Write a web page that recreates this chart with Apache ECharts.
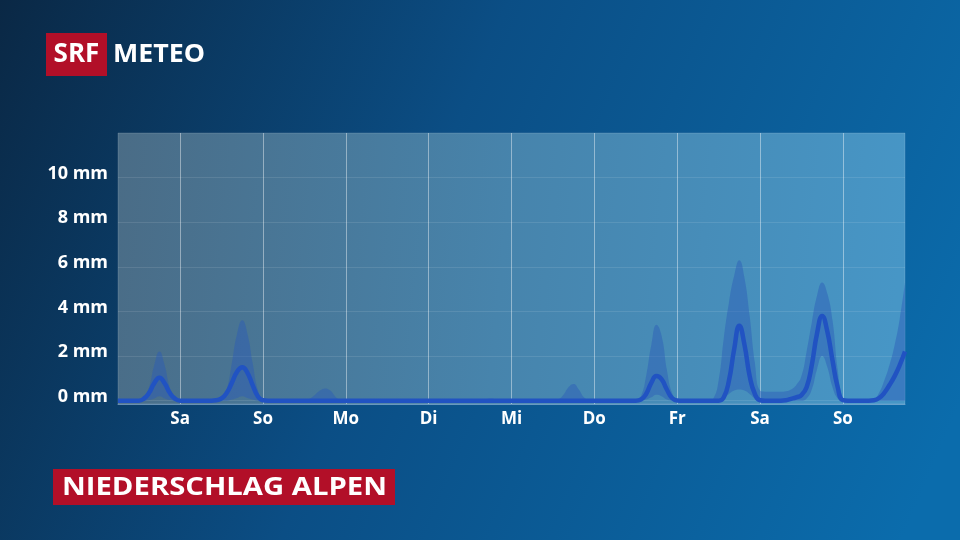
<!DOCTYPE html>
<html>
<head>
<meta charset="utf-8">
<script src="https://cdn.jsdelivr.net/npm/echarts@6/dist/echarts.min.js"></script>
<style>
html,body{margin:0;padding:0;background:#0b3a66;}
#c{width:960px;height:540px;}
</style>
</head>
<body>
<div id="c"></div>
<script>
// time in hours from Saturday 00:00 (first "Sa" line)
const bandHours = [-18,-12,-10.5,-9,-7.5,-6,-4.5,-3,-1.5,0,
  10.5,12,13.5,15,16.5,18,19.5,21,22.5,24,25.5,
  36,37.5,39,40.5,42,43.5,45,46.5,48,
  87,88.5,90,91.5,93,
  108,109.5,111,112.5,114,115.5,117,118.5,120,
  132,133.5,135,136.5,138,139.5,141,142.5,144,145.5,
  153,154.5,156,157.5,159,160.5,162,163.5,165,166.5,168,169.5,171,172.5,174,175.5,177,178.5,180,181.5,183,184.5,186,187.5,189,190.5,192,193.5,
  198,199.5,201,202.5,204,205.5,207,208.5,210];

const upper = [0,0,0.13,0.6,1.6,2.2,1.6,0.6,0.13,0,
  0,0.05,0.5,1.7,3.0,3.6,3.0,1.7,0.5,0.05,0,
  0,0.08,0.25,0.45,0.55,0.45,0.18,0.03,0,
  0,0.06,0.1,0.06,0,
  0,0.05,0.25,0.6,0.75,0.5,0.15,0.02,0,
  0,0.2,1.1,2.5,3.4,2.9,1.4,0.35,0.05,0,
  0,0.1,0.9,2.8,4.4,5.6,6.3,5.5,3.8,1.7,0.45,0.4,0.4,0.4,0.4,0.42,0.5,0.7,1.1,2.2,3.5,4.7,5.3,4.8,3.6,1.4,0.1,0,
  0,0,0.05,0.35,0.9,1.6,2.5,3.7,5.3];

const lower = [0,0,0,0.03,0.1,0.2,0.1,0.03,0,0,
  0,0,0,0.05,0.12,0.2,0.12,0.05,0,0,0,
  0,0,0,0,0,0,0,0,0,
  0,0,0,0,0,
  0,0,0,0,0,0,0,0,0,
  0,0,0.05,0.15,0.27,0.2,0.05,0,0,0,
  0,0,0,0.1,0.3,0.45,0.5,0.45,0.3,0.1,0,0,0,0,0,0,0,0,0,0.1,0.5,1.4,2.0,1.5,0.6,0.1,0,0,
  0,0,0,0,0,0,0,0,0];

const medHours = [-18,-12,-10.5,-9,-7.5,-6,-4.5,-3,-1.5,0,
  9,10.5,12,13.5,15,16.5,18,19.5,21,22.5,24,25.5,
  132,133.5,135,136.5,138,139.5,141,142.5,144,145.5,
  156,157.5,159,160.5,162,163.5,165,166.5,168,169.5,
  174,175.5,177,178.5,180,181.5,183,184.5,186,187.5,189,190.5,192,193.5,
  199.5,201,202.5,204,205.5,207,208.5,210];

const median = [0,0,0.09,0.35,0.78,1.03,0.78,0.35,0.09,0,
  0,0.02,0.1,0.35,0.8,1.3,1.5,1.25,0.7,0.2,0.02,0,
  0,0.05,0.3,0.8,1.1,0.95,0.5,0.12,0.01,0,
  0,0.15,0.9,2.3,3.36,2.5,1.1,0.3,0.02,0,
  0,0.02,0.08,0.15,0.25,0.6,1.6,3.0,3.8,3.1,1.8,0.6,0.02,0,
  0,0.02,0.12,0.35,0.7,1.1,1.6,2.2];

const dayTicks = [0,24,48,72,96,120,144,168,192];
const dayLabels = ['Sa','So','Mo','Di','Mi','Do','Fr','Sa','So'];
const yTicks = [0,2,4,6,8,10];
const titleText = 'NIEDERSCHLAG ALPEN';

const FONT = '"Open Sans", "Noto Sans", sans-serif';
// [value, hour] rows so that stacking happens on the value (y) dimension
const lowerRows = bandHours.map((h, i) => [lower[i], h]);
const bandRows = bandHours.map((h, i) => [Math.max(0, upper[i] - lower[i]), h]);
const medRows = medHours.map((h, i) => [h, median[i]]);

const chart = echarts.init(document.getElementById('c'), null, {renderer: 'canvas'});
chart.setOption({
  animation: false,
  backgroundColor: {
    type: 'linear', x: 0, y: 0, x2: 1, y2: 0.75,
    colorStops: [
      {offset: 0, color: '#0a2845'},
      {offset: 0.45, color: '#0b4e85'},
      {offset: 1, color: '#0b6cac'}
    ]
  },
  grid: {
    left: 118, right: 55, top: 133, bottom: 136,
    show: true,
    borderWidth: 1,
    borderColor: 'rgba(255,255,255,0.14)',
    backgroundColor: {
      type: 'linear', x: 0, y: 0, x2: 1, y2: 0.3,
      colorStops: [
        {offset: 0, color: '#4a6c86'},
        {offset: 0.5, color: '#4784ac'},
        {offset: 1, color: '#4796c6'}
      ]
    }
  },
  xAxis: {
    type: 'value', min: -18, max: 210,
    axisLine: {show: true, onZero: false, lineStyle: {color: 'rgba(170,200,230,0.55)', width: 1}},
    axisTick: {show: false, customValues: dayTicks},
    splitLine: {show: true, lineStyle: {color: 'rgba(255,255,255,0.42)', width: 1}},
    axisLabel: {
      customValues: dayTicks,
      color: '#ffffff', fontFamily: FONT, fontWeight: 'bold', fontSize: 17, margin: 7,
      formatter: (v) => dayLabels[dayTicks.indexOf(v)]
    }
  },
  yAxis: {
    type: 'value', min: -0.15, max: 12,
    axisLine: {show: false},
    axisTick: {show: false, customValues: yTicks},
    splitLine: {show: true, lineStyle: {color: 'rgba(255,255,255,0.1)', width: 1}},
    axisLabel: {
      customValues: yTicks,
      color: '#ffffff', fontFamily: FONT, fontWeight: 'bold', fontSize: 18, margin: 10,
      verticalAlign: 'bottom', lineHeight: 8,
      formatter: '{value} mm'
    }
  },
  series: [
    {
      type: 'line', name: 'lower', stack: 'band', data: lowerRows, encode: {x: 1, y: 0},
      smooth: 0.5, symbol: 'none', lineStyle: {opacity: 0}, silent: true
    },
    {
      type: 'line', name: 'band', stack: 'band', data: bandRows, encode: {x: 1, y: 0},
      smooth: 0.5, symbol: 'none', lineStyle: {opacity: 0},
      areaStyle: {color: 'rgba(42,92,184,0.45)', opacity: 1}, silent: true
    },
    {
      type: 'line', name: 'median', data: medRows,
      smooth: 0.5, symbol: 'none', z: 5,
      lineStyle: {color: '#2153c2', width: 4.5}
    }
  ],
  graphic: [
    {type: 'rect', shape: {x: 46, y: 33, width: 61, height: 43}, style: {fill: '#b20f28'}},
    {type: 'text', style: {text: 'SRF', x: 76.5, y: 55, textAlign: 'center', textVerticalAlign: 'middle',
      font: 'bold 26px ' + FONT, fill: '#ffffff'}},
    {type: 'text', x: 113, y: 55, scaleX: 1.07, style: {text: 'METEO', x: 0, y: 0, textAlign: 'left', textVerticalAlign: 'middle',
      font: 'bold 25px ' + FONT, fill: '#ffffff'}},
    {type: 'rect', shape: {x: 53, y: 469, width: 342, height: 36}, style: {fill: '#b20f28'}},
    {type: 'text', x: 62, y: 488, scaleX: 1.17, style: {text: titleText, x: 0, y: 0, textAlign: 'left', textVerticalAlign: 'middle',
      font: 'bold 25px ' + FONT, fill: '#ffffff'}}
  ]
});
</script>
</body>
</html>
